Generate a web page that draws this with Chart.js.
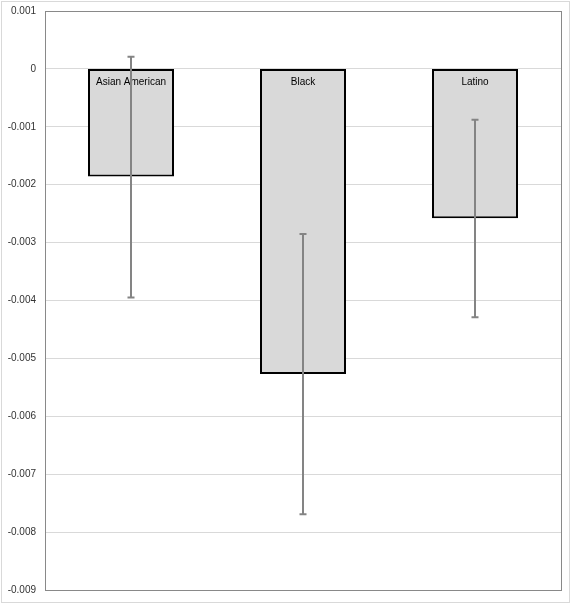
<!DOCTYPE html>
<html>
<head>
<meta charset="utf-8">
<script src="https://cdn.jsdelivr.net/npm/chart.js@4"></script>
<style>
html,body{margin:0;padding:0;background:#fff;}
#wrap{position:relative;width:573px;height:604px;}
</style>
</head>
<body>
<div id="wrap"><canvas id="c"></canvas></div>
<script>
const categories = ['Asian American', 'Black', 'Latino'];
const values = [-0.00186, -0.00527, -0.00258];
const errHigh = [0.00021, -0.00285, -0.00088];
const errLow = [-0.00395, -0.00769, -0.00429];
const yMin = -0.009, yMax = 0.001, yStep = 0.001;

const framePlugin = {
  id: 'frame',
  beforeDraw(chart) {
    const ctx = chart.ctx;
    ctx.save();
    ctx.fillStyle = '#fff';
    ctx.fillRect(0, 0, chart.width, chart.height);
    ctx.strokeStyle = '#d9d9d9';
    ctx.lineWidth = 1;
    ctx.strokeRect(1.5, 1.5, chart.width - 5, chart.height - 3);
    ctx.restore();
  },
  beforeDatasetsDraw(chart) {
    const a = chart.chartArea, ctx = chart.ctx;
    ctx.save();
    ctx.strokeStyle = '#898989';
    ctx.lineWidth = 1;
    ctx.strokeRect(Math.round(a.left) + 0.5, Math.round(a.top) + 0.5,
      Math.round(a.right - a.left), Math.round(a.bottom - a.top));
    ctx.restore();
  },
  afterDatasetsDraw(chart) {
    const ctx = chart.ctx, y = chart.scales.y;
    const meta = chart.getDatasetMeta(0);
    ctx.save();
    ctx.fillStyle = '#000';
    ctx.font = '10px "Liberation Sans", Arial, sans-serif';
    ctx.textAlign = 'center';
    ctx.textBaseline = 'middle';
    meta.data.forEach((bar, i) => {
      ctx.fillText(categories[i], bar.x, y.getPixelForValue(0) + 13);
    });
    ctx.strokeStyle = '#848484';
    ctx.lineWidth = 2;
    meta.data.forEach((bar, i) => {
      const x = Math.round(bar.x);
      const yh = y.getPixelForValue(errHigh[i]);
      const yl = y.getPixelForValue(errLow[i]);
      ctx.beginPath();
      ctx.moveTo(x, yh); ctx.lineTo(x, yl);
      ctx.moveTo(x - 3.5, yh); ctx.lineTo(x + 3.5, yh);
      ctx.moveTo(x - 3.5, yl); ctx.lineTo(x + 3.5, yl);
      ctx.stroke();
    });
    ctx.restore();
  }
};

new Chart(document.getElementById('c'), {
  type: 'bar',
  data: {
    labels: categories,
    datasets: [{
      data: values,
      backgroundColor: '#d9d9d9',
      borderColor: '#000',
      borderWidth: 2,
      borderSkipped: false,
      categoryPercentage: 1,
      barPercentage: 0.5
    }]
  },
  options: {
    responsive: true,
    maintainAspectRatio: false,
    animation: false,
    devicePixelRatio: 1,
    layout: { padding: { left: 0, right: 12, top: 11, bottom: 14 } },
    plugins: { legend: { display: false }, tooltip: { enabled: false } },
    scales: {
      x: { display: false },
      y: {
        min: yMin, max: yMax,
        afterFit(s) { s.width = 45; s.paddingTop = 0; s.paddingBottom = 0; },
        border: { display: false },
        grid: { color: '#d9d9d9', lineWidth: 1, drawTicks: false },
        ticks: {
          stepSize: yStep,
          padding: 9,
          color: '#333',
          font: { family: '"Liberation Sans", Arial, sans-serif', size: 10 },
          callback: v => Number(Number(v).toFixed(3)).toString()
        }
      }
    }
  },
  plugins: [framePlugin]
});
</script>
</body>
</html>
